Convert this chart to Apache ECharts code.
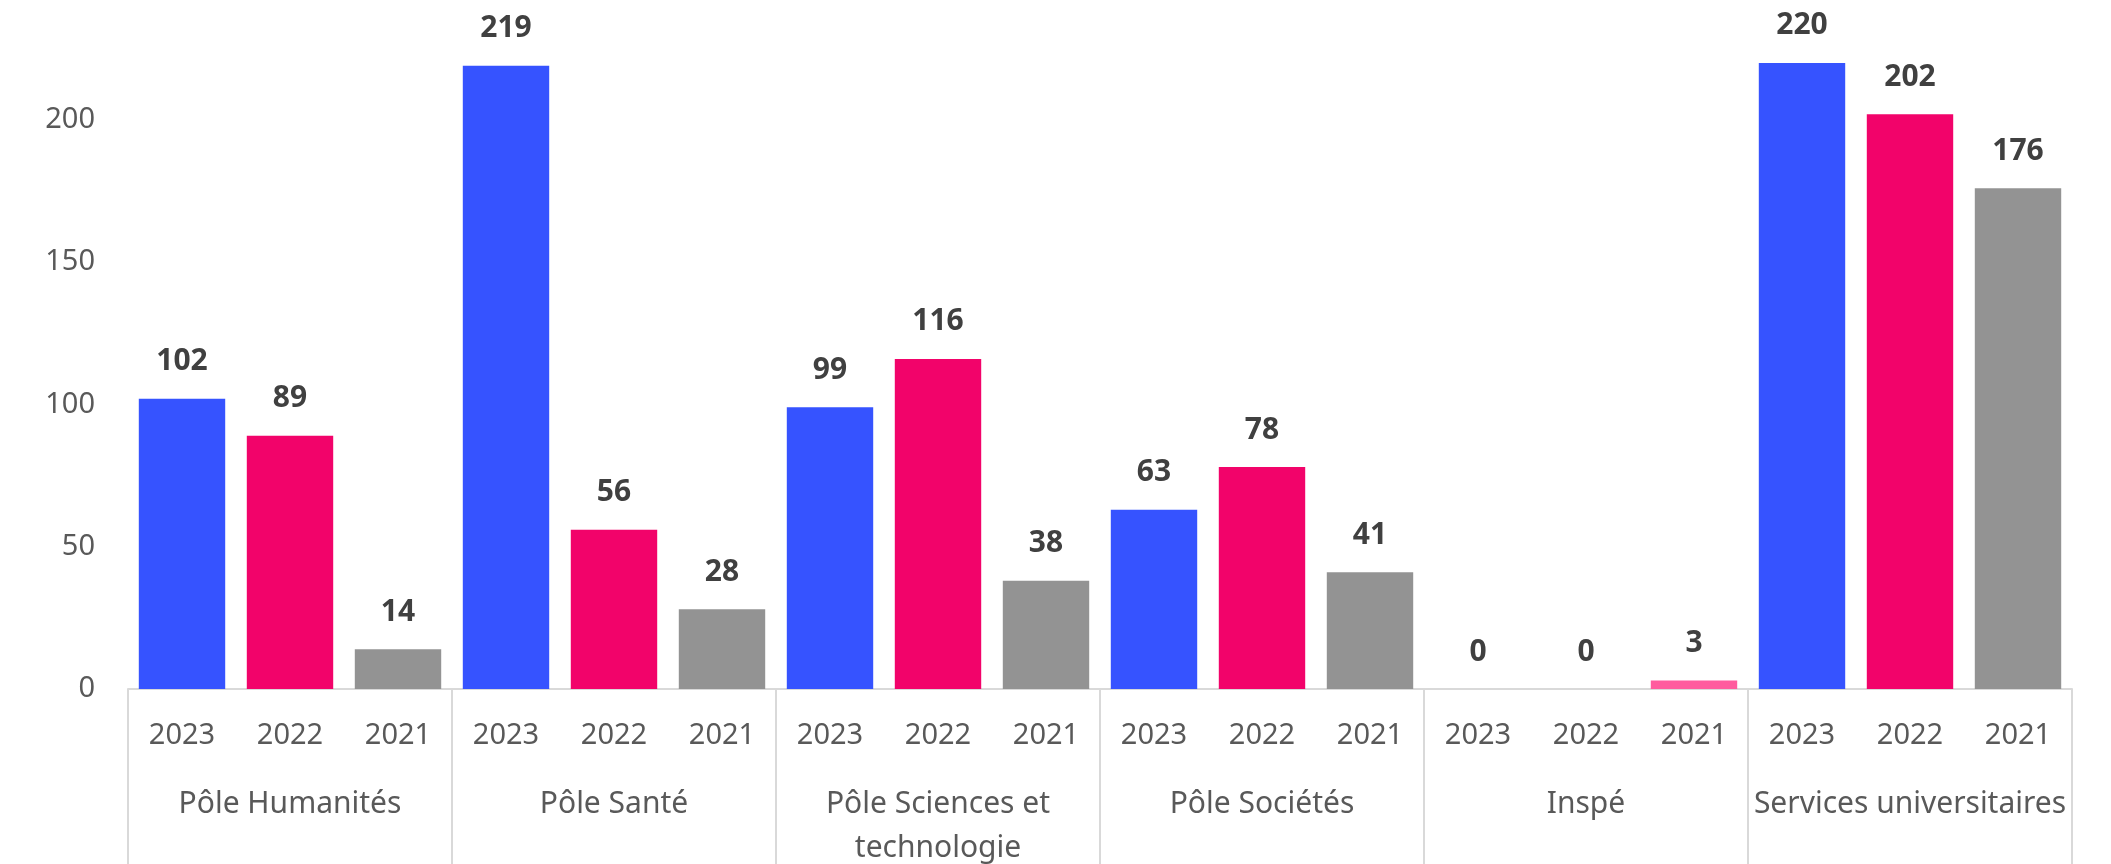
<!DOCTYPE html>
<html>
<head>
<meta charset="utf-8">
<script src="https://cdn.jsdelivr.net/npm/echarts@6/dist/echarts.min.js"></script>
<style>
  html, body { margin: 0; padding: 0; background: #fff; }
  #chart { width: 2111px; height: 864px; }
</style>
</head>
<body>
<div id="chart"></div>
<script>
const groups = ['Pôle Humanités', 'Pôle Santé', 'Pôle Sciences et\ntechnologie', 'Pôle Sociétés', 'Inspé', 'Services universitaires']
const years = ['2023', '2022', '2021']
const values2023 = [102, 219, 99, 63, 0, 220]
const values2022 = [89, 56, 116, 78, 0, 202]
const values2021 = [14, 28, 38, 41, 3, 176]

const yearColors = ['#3653FF', '#F2036A', '#939393']

// one bar per group/year pair
let categories = []
let barData = []
groups.forEach((g, i) => {
    const vals = [values2023[i], values2022[i], values2021[i]]
    years.forEach((y, j) => {
        categories.push(y)
        let color = yearColors[j]
        // Inspé 2021 is drawn in light pink in the source
        if (g === 'Inspé' && y === '2021') color = '#FF5C9E'
        barData.push({ value: vals[j], itemStyle: { color: color } })
    })
})

const textColor = '#595959'
const lineColor = '#D9D9D9'
const font = 'Noto Sans'

const myChart = echarts.init(document.getElementById('chart'))
const option = {
    animation: false,
    grid: { left: 128, right: 39, top: 6, bottom: 175, containLabel: false, outerBoundsMode: 'none' },
    xAxis: [
        {
            type: 'category',
            data: categories,
            axisLine: { show: true, lineStyle: { color: lineColor, width: 2 } },
            axisTick: { show: false },
            axisLabel: { interval: 0, margin: 32, color: textColor, fontSize: 29, fontFamily: font }
        },
        {
            type: 'category',
            data: groups,
            position: 'bottom',
            axisLine: { show: false },
            axisTick: { show: true, length: 177, lineStyle: { color: lineColor, width: 2 } },
            axisLabel: { interval: 0, margin: 93, color: textColor, fontSize: 30, lineHeight: 44, fontFamily: font }
        }
    ],
    yAxis: {
        type: 'value',
        min: 0,
        max: 240,
        interval: 50,
        axisLine: { show: false },
        axisTick: { show: false },
        splitLine: { show: false },
        axisLabel: { margin: 33, color: textColor, fontSize: 29, fontFamily: font, showMaxLabel: false }
    },
    series: [
        {
            type: 'bar',
            xAxisIndex: 0,
            data: barData,
            barCategoryGap: '20%',
            label: {
                show: true,
                position: 'top',
                distance: 22,
                color: '#404040',
                fontSize: 30,
                fontWeight: 'bold',
                fontFamily: font
            }
        }
    ]
}
myChart.setOption(option)
</script>
</body>
</html>
